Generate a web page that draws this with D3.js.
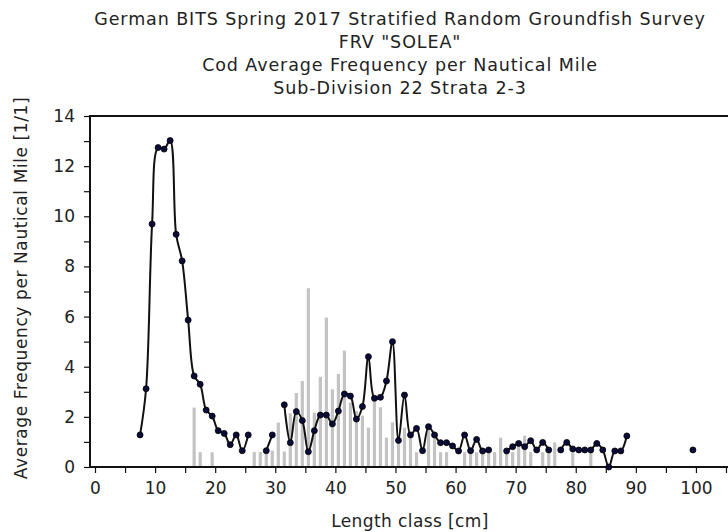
<!DOCTYPE html>
<html>
<head>
<meta charset="utf-8">
<script src="https://cdn.jsdelivr.net/npm/d3@7"></script>
<style>
  html, body { margin: 0; padding: 0; background: #fff; overflow: hidden; }
  svg { display: block; font-family: "DejaVu Sans", Verdana, sans-serif; }
</style>
</head>
<body>
<svg id="chart" width="728" height="532"></svg>
<script>
// Title lines
const titleLines = [
  "German BITS Spring 2017 Stratified Random Groundfish Survey",
  "FRV \"SOLEA\"",
  "Cod Average Frequency per Nautical Mile",
  "Sub-Division 22 Strata 2-3"
];

// Length classes (cm) with average frequency per nautical mile (line series, null = no catch)
const lineLengths = [7, 8, 9, 10, 11, 12, 13, 14, 15, 16, 17, 18, 19, 20, 21, 22, 23, 24, 25, 26, 27, 28, 29, 30,
  31, 32, 33, 34, 35, 36, 37, 38, 39, 40, 41, 42, 43, 44, 45, 46, 47, 48, 49, 50, 51, 52, 53, 54, 55, 56, 57, 58, 59, 60,
  61, 62, 63, 64, 65, 66, 67, 68, 69, 70, 71, 72, 73, 74, 75, 76, 77, 78, 79, 80, 81, 82, 83, 84, 85, 86, 87, 88,
  89, 90, 91, 92, 93, 94, 95, 96, 97, 98, 99];
const lineValues = [1.28, 3.12, 9.69, 12.74, 12.68, 13.02, 9.28, 8.22, 5.86, 3.63, 3.30, 2.27, 2.03, 1.45, 1.34, 0.89, 1.28, 0.65, 1.28, null, null, 0.65, 1.28, null,
  2.48, 0.97, 2.21, 1.85, 0.61, 1.45, 2.07, 2.07, 1.72, 2.23, 2.91, 2.83, 1.91, 2.41, 4.40, 2.74, 2.78, 3.43, 5.00, 1.06, 2.87, 1.28, 1.54, 0.65, 1.61, 1.28, 0.97, 0.97, 0.84, 0.64,
  1.28, 0.65, 1.10, 0.64, 0.68, null, null, 0.64, 0.81, 0.94, 0.81, 1.05, 0.68, 0.98, 0.68, null, 0.68, 0.98, 0.72, 0.68, 0.68, 0.68, 0.94, 0.68, 0.00, 0.64, 0.64, 1.24,
  null, null, null, null, null, null, null, null, null, null, 0.68];

// Length classes (cm) with bar series values
const barLengths = [16, 17, 19, 26, 27, 28, 29, 30, 31, 32, 33, 34, 35, 36, 37, 38, 39, 40, 41, 42, 43, 44, 45, 46, 47, 48, 49, 50,
  51, 52, 53, 55, 56, 57, 58, 61, 62, 63, 64, 65, 66, 67, 68, 69, 70, 71, 72, 74, 75, 76, 79, 82];
const barValues = [2.37, 0.59, 0.59, 0.60, 0.60, 0.60, 0.65, 1.77, 0.62, 2.14, 2.95, 3.43, 7.13, 2.17, 3.60, 5.96, 3.10, 3.71, 4.64, 2.57, 2.23, 2.05, 1.57, 2.70, 2.38, 1.17, 1.78, 1.17,
  1.57, 1.17, 0.59, 1.55, 1.17, 0.59, 0.59, 0.59, 0.59, 0.59, 0.59, 0.59, 0.59, 1.17, 0.59, 0.59, 0.88, 1.25, 0.59, 0.59, 0.59, 0.98, 0.59, 0.59];

// Axis ticks
const yTicks = [0, 2, 4, 6, 8, 10, 12, 14];
const yMinorTicks = [1, 3, 5, 7, 9, 11, 13];
const xTicks = [0, 10, 20, 30, 40, 50, 60, 70, 80, 90, 100];
const xMinorTicks = [5, 15, 25, 35, 45, 55, 65, 75, 85, 95, 105];

const svg = d3.select("#chart");
const plot = { left: 90, right: 735, top: 116, bottom: 467 };

const x = d3.scaleLinear().domain([-5 / 6, 106.5]).range([plot.left, plot.right]);
const y = d3.scaleLinear().domain([0, 14]).range([plot.bottom, plot.top]);

// Class midpoint on the length axis
const mid = L => x(L + 0.5);

const textColor = "#222";
const labelSize = 17;

// Titles
svg.append("g").selectAll("text").data(titleLines).join("text")
  .attr("x", 400).attr("y", (d, i) => 25 + i * 23)
  .attr("text-anchor", "middle")
  .attr("font-size", 17.5).attr("letter-spacing", 0.9).attr("fill", textColor)
  .text(d => d);

// Bars
const barData = barLengths.map((L, i) => ({ L, v: barValues[i] }));
svg.append("g").selectAll("rect").data(barData).join("rect")
  .attr("x", d => mid(d.L) - 1.6)
  .attr("width", 3.2)
  .attr("y", d => y(d.v))
  .attr("height", d => y(0) - y(d.v))
  .attr("fill", "#c3c3c3");

// Axes
const yAxis = d3.axisLeft(y).tickValues(yTicks).tickSize(6).tickPadding(9);
const gy = svg.append("g").attr("transform", `translate(${plot.left},0)`).call(yAxis);
gy.select(".domain").remove();
gy.selectAll(".tick line").attr("stroke", "#111").attr("stroke-width", 1.2);
gy.selectAll(".tick text").attr("font-size", labelSize).attr("fill", textColor)
  .attr("font-family", "DejaVu Sans, Verdana, sans-serif");

const yMinor = d3.axisLeft(y).tickValues(yMinorTicks).tickSize(6).tickFormat("");
const gym = svg.append("g").attr("transform", `translate(${plot.left},0)`).call(yMinor);
gym.select(".domain").remove();
gym.selectAll(".tick line").attr("stroke", "#111").attr("stroke-width", 1.2);

const xAxis = d3.axisBottom(x).tickValues(xTicks).tickSize(6).tickPadding(9);
const gx = svg.append("g").attr("transform", `translate(0,${plot.bottom})`).call(xAxis);
gx.select(".domain").remove();
gx.selectAll(".tick line").attr("stroke", "#111").attr("stroke-width", 1.2);
gx.selectAll(".tick text").attr("font-size", labelSize).attr("fill", textColor)
  .attr("font-family", "DejaVu Sans, Verdana, sans-serif");

const xMinor = d3.axisBottom(x).tickValues(xMinorTicks).tickSize(6).tickFormat("");
const gxm = svg.append("g").attr("transform", `translate(0,${plot.bottom})`).call(xMinor);
gxm.select(".domain").remove();
gxm.selectAll(".tick line").attr("stroke", "#111").attr("stroke-width", 1.2);

// Frame
svg.append("rect")
  .attr("x", plot.left).attr("y", plot.top)
  .attr("width", plot.right - plot.left).attr("height", plot.bottom - plot.top)
  .attr("fill", "none").attr("stroke", "#111").attr("stroke-width", 2);

// Line series
const lineData = lineLengths.map((L, i) => ({ L, v: lineValues[i] }));
const line = d3.line()
  .defined(d => d.v !== null)
  .x(d => mid(d.L))
  .y(d => y(d.v))
  .curve(d3.curveCatmullRom.alpha(0.5));

svg.append("path")
  .datum(lineData)
  .attr("d", line)
  .attr("fill", "none")
  .attr("stroke", "#111")
  .attr("stroke-width", 2);

svg.append("g").selectAll("circle").data(lineData.filter(d => d.v !== null)).join("circle")
  .attr("cx", d => mid(d.L))
  .attr("cy", d => y(d.v))
  .attr("r", 3)
  .attr("fill", "#0b0b3a")
  .attr("stroke", "#000")
  .attr("stroke-width", 0.8);

// Axis titles
svg.append("text")
  .attr("x", 410).attr("y", 527)
  .attr("text-anchor", "middle")
  .attr("font-size", labelSize).attr("letter-spacing", 0.4).attr("fill", textColor)
  .text("Length class [cm]");

svg.append("text")
  .attr("transform", `translate(27,288) rotate(-90)`)
  .attr("text-anchor", "middle")
  .attr("font-size", labelSize).attr("letter-spacing", 0.6).attr("fill", textColor)
  .text("Average Frequency per Nautical Mile [1/1]");
</script>
</body>
</html>
